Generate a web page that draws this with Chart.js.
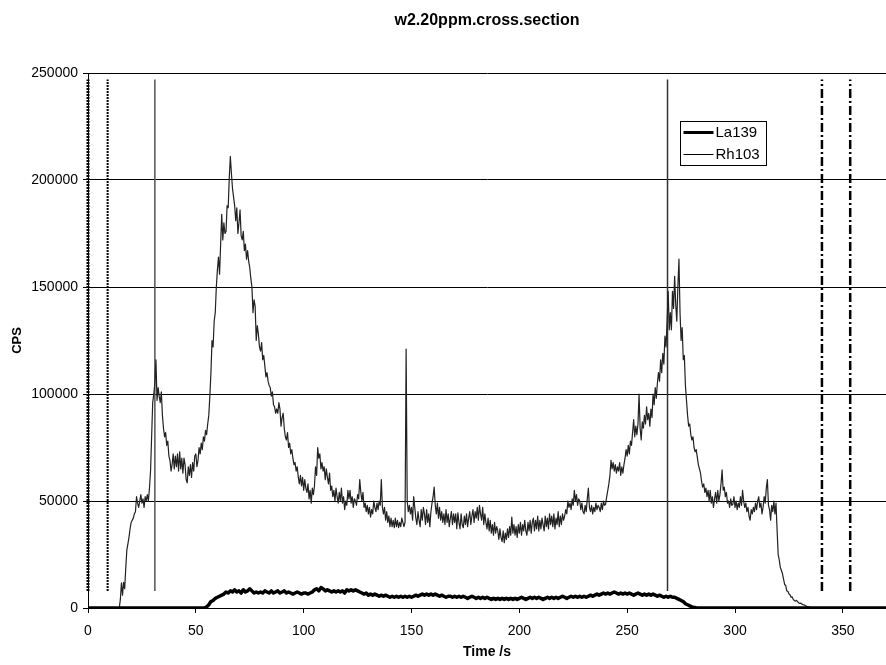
<!DOCTYPE html>
<html>
<head>
<meta charset="utf-8">
<script src="https://cdn.jsdelivr.net/npm/chart.js@4/dist/chart.umd.min.js"></script>
<style>
  html, body { margin: 0; padding: 0; background: #fff; }
  canvas { display: block; }
</style>
</head>
<body>
<canvas id="c" width="886" height="665"></canvas>
<script>
// Text
const chartTitle = 'w2.20ppm.cross.section';
const xAxisTitle = 'Time /s';
const yAxisTitle = 'CPS';
const seriesNames = ['La139', 'Rh103'];

// Axis ticks
const xTickValues = [0, 50, 100, 150, 200, 250, 300, 350];
const yTickValues = [0, 50000, 100000, 150000, 200000, 250000];

// Reading intervals (s); both series start at t = 0 s
const la139Interval = 1;
const rh103Interval = 0.5;

// La139 counts per second, one reading per second (10 s per row)
const la139 = [
  0,0,0,0,0,0,0,0,0,0,
  0,0,0,0,0,0,0,0,0,0,
  0,0,0,0,0,0,0,0,0,0,
  0,0,0,0,0,0,0,0,0,0,
  0,0,0,0,0,0,0,0,0,0,
  0,0,0,0,0,500,1500,3000,3500,4500,
  5000,5500,6000,6500,7500,7000,8000,7500,8500,7500,
  8000,7000,8500,7500,8000,9000,8000,7000,7500,7000,
  7500,7000,8000,7500,7000,8000,7000,7500,8000,7000,
  7500,8000,7000,7500,7000,6500,7000,7500,7000,6500,
  7000,7000,6500,7000,7500,8500,9000,8000,9500,9000,
  8000,8500,8000,7500,8000,7500,8000,7500,8000,7000,
  8500,8000,8500,8000,8500,8000,7500,7000,6500,7000,
  6000,6500,6000,6500,6000,5500,6000,5500,6000,5500,
  5000,5500,5000,5500,5000,5500,5000,5500,5000,5500,
  5000,5500,6000,5500,6000,6500,6000,6500,6000,6500,
  6000,6500,6000,5500,6000,5500,5000,5500,5500,5000,
  5500,5000,5500,5000,5500,5000,4500,5000,5500,5000,
  4500,5000,4500,5000,4500,5000,4500,4000,4500,4000,
  4500,4000,4500,4000,4500,4000,4500,4000,4500,4000,
  4500,5000,4500,4000,4500,5000,4500,5000,4500,5000,
  4500,4000,4500,5000,4500,5000,4500,5000,4500,5000,
  5500,5000,4500,5000,5500,5000,5500,5000,5500,5000,
  5500,5000,5500,6000,5500,6000,6500,6000,6500,7000,
  6500,7000,6500,7000,7500,7000,6500,7000,6500,7000,
  6500,7000,6500,6000,6500,7000,6500,6000,6500,6000,
  6500,6000,6500,6000,5500,6000,5500,5000,5500,5000,
  5500,5000,5000,4500,4000,3500,3000,2000,1500,1000,
  500,300,100,0,0,0,0,0,0,0,
  0,0,0,0,0,0,0,0,0,0,
  0,0,0,0,0,0,0,0,0,0,
  0,0,0,0,0,0,0,0,0,0,
  0,0,0,0,0,0,0,0,0,0,
  0,0,0,0,0,0,0,0,0,0,
  0,0,0,0,0,0,0,0,0,0,
  0,0,0,0,0,0,0,0,0,0,
  0,0,0,0,0,0,0,0,0,0,
  0
];

// Rh103 counts per second, two readings per second (5 s per row)
const rh103 = [
  0,0,0,0,0,0,0,0,0,0,
  0,0,0,0,0,0,0,0,0,0,
  0,0,0,0,0,0,0,0,0,0,
  4000,11700,6000,12000,9000,18500,27000,30000,33000,37000,
  40000,41000,42000,44000,45000,52000,49000,47000,50000,53000,
  49000,51000,47000,52000,50000,53000,50000,56000,64000,80000,
  96000,100000,105000,116000,97000,103000,99000,96000,101000,90000,
  84000,80000,82000,76000,78000,71000,69000,64000,67000,72000,
  65000,71000,66000,72000,64000,73000,65000,70000,63000,70000,
  67000,60000,58500,66000,62000,67000,61000,68000,64000,71000,
  72000,66000,69000,75000,72000,77000,74000,80000,78000,83000,
  81000,86000,90000,99000,110000,125000,122000,134000,138000,150000,
  158000,164000,156000,170000,184000,172000,180000,175000,176000,188000,
  187000,201000,211000,203000,196000,192000,188000,181000,187000,175000,
  180000,186000,174000,172000,176000,167000,170000,163000,167000,162000,
  159000,154000,150000,138000,144000,141000,125000,132000,128000,122000,
  120000,124000,116000,118000,113000,108000,110000,106000,104000,103000,
  99000,101000,95000,94000,91000,93000,91000,96000,93000,85000,
  89000,91000,84000,80000,78500,82000,75000,77000,72000,74000,
  70000,67000,68000,64000,66000,61000,58000,62000,57000,61000,
  55000,60000,56000,54000,58000,51000,55000,49000,56000,53000,
  57000,66000,62000,75000,70000,72000,65000,68000,64000,66000,
  60000,65000,61000,58000,63000,55000,57000,52000,55000,50000,
  56000,52000,49000,54000,50000,56000,49000,52000,46000,50000,
  48000,55000,51000,55000,49000,52000,47000,51000,50000,48000,
  53000,51000,60000,54000,50000,54000,47000,49000,45000,48000,
  44000,47000,42500,46000,44000,50000,47000,45000,49000,46000,
  50000,48000,60000,47000,44000,47000,41000,45000,40000,43000,
  38000,42000,38000,41000,37500,42000,38000,41000,37500,40000,
  38000,42000,40000,38000,40000,121000,50000,45000,48000,44000,
  47000,41000,52000,47000,42000,39000,45000,41000,38000,46000,
  41000,47000,44000,39000,46000,40000,44000,38000,45000,49000,
  52000,56500,48000,44000,49000,42000,47000,41000,45000,40000,
  44000,39000,46000,40000,44000,38000,42000,45000,39000,44000,
  40000,44000,37000,44500,40000,37000,44000,39000,37500,43000,
  39000,44000,38000,42000,45000,39000,43000,46000,40000,45000,
  42000,47000,41000,48000,44000,41000,47000,39000,44000,40000,
  37000,42000,36000,41000,35000,39000,34000,40000,35000,38000,
  36000,32000,37000,33000,31000,36000,30500,35000,32000,37000,
  33000,38000,34000,42500,35000,39000,34000,38000,33000,39000,
  35000,40000,34000,39000,36000,41000,36000,34000,40000,36000,
  41000,35000,40000,42000,36000,41000,37000,43000,36000,41000,
  37000,42000,39000,36000,43000,38000,42000,37000,44000,39000,
  43000,38000,44000,37000,42000,39000,45000,38000,43000,39000,
  44000,41000,43000,46000,44000,50000,47000,49000,46000,51000,
  48000,55000,50000,53000,48000,51000,50000,46000,49000,45000,
  44000,48000,45000,51000,56000,47000,45000,48000,44000,47000,
  45000,49000,46000,48000,47000,45000,49000,46000,50000,48000,
  48500,52000,55000,58000,62000,69000,65000,68000,64000,67000,
  63000,66000,64000,68000,62000,66000,63000,67000,70000,74000,
  71000,76000,72000,78000,76000,82000,88000,80000,85000,81000,
  86000,100000,84000,78500,87000,84000,90000,86000,94000,88000,
  91000,85000,93000,89000,100000,95000,103000,98000,105000,110000,
  106000,116000,110000,119000,114000,127000,122000,134000,148000,130000,
  138000,130000,148000,140000,155000,142000,134000,150000,163000,138000,
  125000,131000,116000,118000,104000,97000,90000,85000,86000,81000,
  78500,80000,75000,73000,74000,70500,67000,65000,63000,59000,
  56500,58000,54000,56000,52000,55000,50000,55000,49000,52000,
  47000,51000,54000,49000,55000,50000,53000,58000,64500,55000,
  56500,52000,54000,49000,50000,47000,51000,48000,48500,52000,
  47000,50000,46000,49000,47000,52000,48000,55000,50000,47000,
  49000,45000,47000,43000,41000,46000,44000,47000,45000,49000,
  46000,50000,52000,47000,49000,44000,47000,52000,49000,56000,
  60000,48000,46000,41000,48000,45000,50000,44000,49000,36500,
  25000,22500,19000,17500,16000,13500,11000,10500,8000,7800,
  6500,6200,5000,5200,4000,3500,3200,3600,3000,2400,
  2200,2300,1800,1600,1500,1100,900,600,500,400,
  200,100,0,0,0,0,0,0,0,0,
  0,0,0,0,0,0,0,0,0,0,
  0,0,0,0,0,0,0,0,0,0,
  0,0,0,0,0,0,0,0,0,0,
  0,0,0,0,0,0,0,0,0,0,
  0,0,0,0,0,0,0,0,0,0,
  0,0,0,0,0,0,0,0,0,0,
  0
];

// Vertical event markers: time (s), drawn from markerLow to markerHigh CPS
const markerTimes = [0, 9.1, 31, 268.7, 340.3, 353.4];
const markerLow = 8000;
const markerHigh = 247000;
const markerStyles = [
  { color: '#000', width: 3,   dash: [2, 1] },
  { color: '#000', width: 2,   dash: [2, 1] },
  { color: '#555', width: 1.5, dash: [] },
  { color: '#333', width: 1.5, dash: [] },
  { color: '#000', width: 2.5, dash: [9, 3, 2, 3] },
  { color: '#000', width: 2.5, dash: [9, 3, 2, 3] }
];

const toPoints = (vals, step) => vals.map((v, i) => ({ x: i * step, y: v }));

const FONT = '"Liberation Sans", Arial, Helvetica, sans-serif';

const datasets = [
  {
    label: seriesNames[0], data: toPoints(la139, la139Interval),
    borderColor: '#000', borderWidth: 3.5, pointRadius: 0, order: 0,
    borderJoinStyle: 'round'
  },
  {
    label: seriesNames[1], data: toPoints(rh103, rh103Interval),
    borderColor: '#222', borderWidth: 1.2, pointRadius: 0, order: 1,
    borderJoinStyle: 'round'
  }
];
markerTimes.forEach((t, i) => {
  const s = markerStyles[i];
  datasets.push({
    label: 'marker' + i,
    data: [{ x: t, y: markerLow }, { x: t, y: markerHigh }],
    borderColor: s.color, borderWidth: s.width, borderDash: s.dash,
    pointRadius: 0, order: 2, clip: false
  });
});

// Title and boxed legend drawn inside the plot area
const decorations = {
  id: 'decorations',
  afterDraw(chart) {
    const { ctx, chartArea: a } = chart;
    ctx.save();
    ctx.fillStyle = '#000';
    ctx.textBaseline = 'middle';
    ctx.textAlign = 'center';
    ctx.font = 'bold 16px ' + FONT;
    ctx.fillText(chartTitle, (a.left + a.right) / 2, 21);

    // legend
    const bx = 680.5, by = 121.5, bw = 86, bh = 44;
    ctx.fillStyle = '#fff';
    ctx.fillRect(bx, by, bw, bh);
    ctx.strokeStyle = '#000';
    ctx.lineWidth = 1;
    ctx.strokeRect(bx, by, bw, bh);
    const rows = [
      { name: seriesNames[0], width: 3, y: by + 11 },
      { name: seriesNames[1], width: 1, y: by + 33 }
    ];
    ctx.font = '15px ' + FONT;
    ctx.textAlign = 'left';
    rows.forEach(r => {
      ctx.beginPath();
      ctx.lineWidth = r.width;
      ctx.strokeStyle = '#000';
      ctx.moveTo(bx + 3, r.y);
      ctx.lineTo(bx + 33, r.y);
      ctx.stroke();
      ctx.fillStyle = '#000';
      ctx.fillText(r.name, bx + 35, r.y + 0.5);
    });
    ctx.restore();
  }
};

new Chart(document.getElementById('c'), {
  type: 'line',
  data: { datasets },
  options: {
    responsive: false,
    animation: false,
    devicePixelRatio: 1,
    normalized: true,
    layout: { padding: { top: 73, right: 0, left: 0, bottom: 0 } },
    plugins: {
      legend: { display: false },
      title: { display: false },
      tooltip: { enabled: false }
    },
    elements: { line: { tension: 0 } },
    scales: {
      x: {
        type: 'linear',
        min: 0, max: 370,
        afterBuildTicks: s => { s.ticks = xTickValues.map(v => ({ value: v })); },
        afterFit: s => { s.height = 57; },
        ticks: { color: '#000', font: { family: FONT, size: 14 }, padding: 10, maxRotation: 0,
                 callback: v => String(v) },
        grid: { drawOnChartArea: false, drawTicks: true, tickLength: 5, color: '#000' },
        border: { color: '#000', width: 1 },
        title: {
          display: true, text: xAxisTitle, color: '#000',
          font: { family: FONT, size: 14, weight: 'bold' },
          padding: { top: 0, bottom: 4 }
        }
      },
      y: {
        min: 0, max: 250000,
        afterBuildTicks: s => { s.ticks = yTickValues.map(v => ({ value: v })); },
        afterFit: s => { s.width = 88; },
        ticks: { color: '#000', font: { family: FONT, size: 14 }, padding: 5,
                 callback: v => String(v) },
        grid: { color: '#000', lineWidth: 1, drawTicks: true, tickLength: 5 },
        border: { color: '#000', width: 1 },
        title: {
          display: true, text: yAxisTitle, color: '#000',
          font: { family: FONT, size: 13, weight: 'bold' },
          padding: { top: 10, bottom: 0 }
        }
      }
    }
  },
  plugins: [decorations]
});
</script>
</body>
</html>
